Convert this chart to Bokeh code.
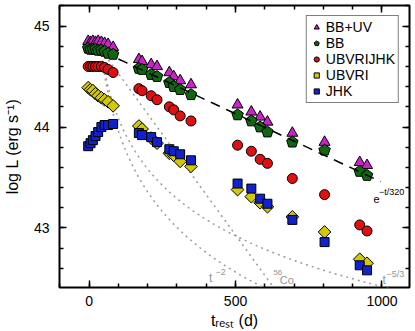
import numpy as np
from bokeh.plotting import figure
from bokeh.models import (Range1d, FixedTicker, LinearAxis, Label, Legend, LegendItem,
                          CustomJSTickFormatter)
from bokeh.embed import file_html
from bokeh.resources import INLINE

try:
    from bokeh.models import Ngon  # noqa: F401
    HAS_NGON = True
except Exception:
    HAS_NGON = False

FONT = "Liberation Sans"

# ---------------- data ----------------
t_early = [-3, 5, 13, 22, 31, 42, 53, 65, 82]
t_mid = [170, 181, 212, 232, 274, 289, 311, 348]
t_late = [507, 554, 584, 609, 694, 804, 924, 949]

L_bbuv = ([44.85, 44.84, 44.85, 44.84, 44.85, 44.84, 44.83, 44.82, 44.79]
          + [44.67, 44.65, 44.62, 44.60, 44.54, 44.50, 44.46, 44.42]
          + [44.22, 44.15, 44.10, 44.05, 43.94, 43.85, 43.65, 43.62])
L_bb = ([44.78, 44.77, 44.77, 44.77, 44.76, 44.76, 44.75, 44.73, 44.72]
        + [44.58, 44.57, 44.52, 44.50, 44.44, 44.40, 44.37, 44.32]
        + [44.12, 44.06, 44.00, 43.95, 43.85, 43.77, 43.56, 43.52])
L_ubvrijhk = ([44.60, 44.60, 44.60, 44.60, 44.60, 44.60, 44.59, 44.57, 44.54]
              + [44.38, 44.36, 44.31, 44.27, 44.20, 44.17, 44.11, 44.06]
              + [43.82, 43.76, 43.68, 43.64, 43.49, 43.33, 43.03, 42.97])
L_ubvri = ([44.39, 44.37, 44.36, 44.33, 44.31, 44.29, 44.27, 44.25, 44.21]
           + [44.01, 43.98, 43.89, 43.84, 43.74, 43.72, 43.66, 43.61]
           + [43.38, 43.31, 43.25, 43.21, 43.11, 42.96, 42.69, 42.65])
L_jhk = ([43.81, 43.84, 43.87, 43.91, 43.95, 44.00, 44.02, 44.02, 44.03]
         + [43.94, 43.92, 43.90, 43.85, 43.78, 43.76, 43.73, 43.67]
         + [43.44, 43.39, 43.29, 43.24, 43.08, 42.86, 42.63, 42.58])
t_all = t_early + t_mid + t_late

series_names = ["BB+UV", "BB", "UBVRIJHK", "UBVRI", "JHK"]

# model curves (parameters)
exp_tau = 320.0          # e^(-t/320)
exp_L0 = 44.81           # log L at t=0 of the exponential
exp_t = [100, 995]
pl2_A = 47.96            # log L = A - 2 log t
pl53_A = 47.42           # log L = A - 5/3 log t
co_L0, co_slope = 44.93, 0.0040   # 56Co decay line
model_t0 = 42

x_major = [0, 500, 1000]
x_minor = list(range(-100, 1100, 100))
y_major = [43, 44, 45]
y_minor = [round(42.4 + 0.2 * i, 1) for i in range(15)]

X0, X1 = -101, 1094
Y0, Y1 = 42.41, 45.204

# ---------------- figure ----------------
p = figure(width=412, height=331, x_range=Range1d(X0, X1), y_range=Range1d(Y0, Y1),
           output_backend="svg", toolbar_location=None,
           min_border_left=58, min_border_right=3, min_border_top=5, min_border_bottom=43)
p.xgrid.visible = False
p.ygrid.visible = False
p.outline_line_color = "black"
p.outline_line_width = 2
p.background_fill_color = "white"
p.border_fill_color = "white"

# canvas-pixel -> data helpers for text placement (frame: x 58..409, y 5..288)
def dx(px):
    return X0 + (px - 58) * (X1 - X0) / 351.0

def dy(py):
    return Y1 - (py - 5) * (Y1 - Y0) / 283.0


def style_axis(ax, labels=True, standoff=9):
    ax.axis_line_color = None
    ax.major_tick_in = 7
    ax.major_tick_out = 0
    ax.minor_tick_in = 4
    ax.minor_tick_out = 0
    ax.major_tick_line_color = "black"
    ax.minor_tick_line_color = "black"
    ax.major_tick_line_width = 1.5
    ax.minor_tick_line_width = 1.5
    ax.major_label_text_font = FONT
    ax.major_label_text_font_size = "14px"
    ax.major_label_text_color = "black"
    ax.major_label_standoff = standoff
    ax.axis_label_text_font = FONT
    ax.axis_label_text_font_size = "16px"
    ax.axis_label_text_font_style = "normal"
    ax.axis_label_text_color = "black"
    if not labels:
        ax.formatter = CustomJSTickFormatter(code="return ''")
        ax.major_label_standoff = 0
        ax.major_label_text_font_size = "1px"


p.xaxis.ticker = FixedTicker(ticks=x_major, minor_ticks=x_minor)
p.yaxis.ticker = FixedTicker(ticks=y_major, minor_ticks=y_minor)
style_axis(p.xaxis[0], True, 8)
style_axis(p.yaxis[0], True, 10)
p.xaxis[0].axis_label = "t\u1d63\u2091\u209b\u209c (d)"
p.xaxis[0].axis_label_standoff = 3
p.yaxis[0].axis_label = "log L (erg s\u207b\u00b9)"
p.yaxis[0].axis_label_standoff = 10

top_ax = LinearAxis(ticker=FixedTicker(ticks=x_major, minor_ticks=x_minor))
right_ax = LinearAxis(ticker=FixedTicker(ticks=y_major, minor_ticks=y_minor))
style_axis(top_ax, False)
style_axis(right_ax, False)
p.add_layout(top_ax, "above")
p.add_layout(right_ax, "right")

# ---------------- model lines ----------------
DOT = "2 4"
t_pl2 = np.linspace(model_t0, 640, 200)
p.line(t_pl2, pl2_A - 2 * np.log10(t_pl2), line_color="#9a9a9a", line_width=1.5, line_dash=DOT)
t_pl53 = np.linspace(model_t0, 1060, 300)
p.line(t_pl53, pl53_A - (5.0 / 3.0) * np.log10(t_pl53), line_color="#9a9a9a", line_width=1.5, line_dash=DOT)
t_co = np.linspace(model_t0, 660, 100)
p.line(t_co, co_L0 - co_slope * t_co, line_color="#9a9a9a", line_width=1.5, line_dash=DOT)

# ---------------- data markers ----------------
r_tri = p.scatter(t_all, L_bbuv, marker="triangle", size=11, fill_color="#cc22cc", line_color="black", line_width=1)
if HAS_NGON:
    r_pent = p.ngon(t_all, L_bb, radius=6, radius_units="screen", n=5, fill_color="#116611",
                    line_color="black", line_width=1)
else:
    r_pent = p.scatter(t_all, L_bb, marker="hex", size=11, fill_color="#116611", line_color="black", line_width=1)
r_circ = p.scatter(t_all, L_ubvrijhk, marker="circle", size=10, fill_color="#dd1111", line_color="black", line_width=1)
r_dia = p.scatter(t_all, L_ubvri, marker="square", angle=np.pi / 4, size=9, fill_color="#d4c800",
                  line_color="black", line_width=1)
r_sq = p.scatter(t_all, L_jhk, marker="square", size=9, fill_color="#1122cc", line_color="black", line_width=1)

# exponential (dashed), drawn over the markers
t_exp = np.linspace(exp_t[0], exp_t[1], 100)
p.line(t_exp, exp_L0 - t_exp / (exp_tau * np.log(10)), line_color="black", line_width=1.5, line_dash="10 7")

# ---------------- text labels ----------------
def lab(text, px, py, size, color="black", angle=0.0, style="normal"):
    p.add_layout(Label(x=dx(px), y=dy(py), text=text, text_font=FONT, text_font_size=size,
                       text_color=color, text_align="left", text_baseline="alphabetic",
                       angle=angle, text_font_style=style))

grey = "#959595"
lab("t", 208, 278, "12px", grey)
lab("\u22122", 214.5, 272.5, "9px", grey)
lab("56", 272.5, 273, "8px", grey)
lab("Co", 279, 280, "11px", grey)
lab("t", 382, 280, "12px", grey)
lab("\u22125/3", 386, 274, "9px", grey)
lab("e", 373, 199, "11px")
lab("\u2212t/320", 378.5, 192, "9px")

# ---------------- legend ----------------
legend = Legend(items=[LegendItem(label=n, renderers=[r]) for n, r in
                       zip(series_names, [r_tri, r_pent, r_circ, r_dia, r_sq])],
                location="top_right")
legend.label_text_font = FONT
legend.label_text_font_size = "14px"
legend.label_text_line_height = 1.0
legend.label_text_color = "black"
legend.border_line_color = "black"
legend.border_line_width = 1.5
legend.background_fill_color = "white"
legend.background_fill_alpha = 1.0
legend.padding = 3
legend.spacing = 0
legend.margin = 10
legend.glyph_width = 13
legend.glyph_height = 14
legend.label_height = 14
legend.label_standoff = 3
p.add_layout(legend)

open("out.html", "w").write(file_html(p, INLINE))
